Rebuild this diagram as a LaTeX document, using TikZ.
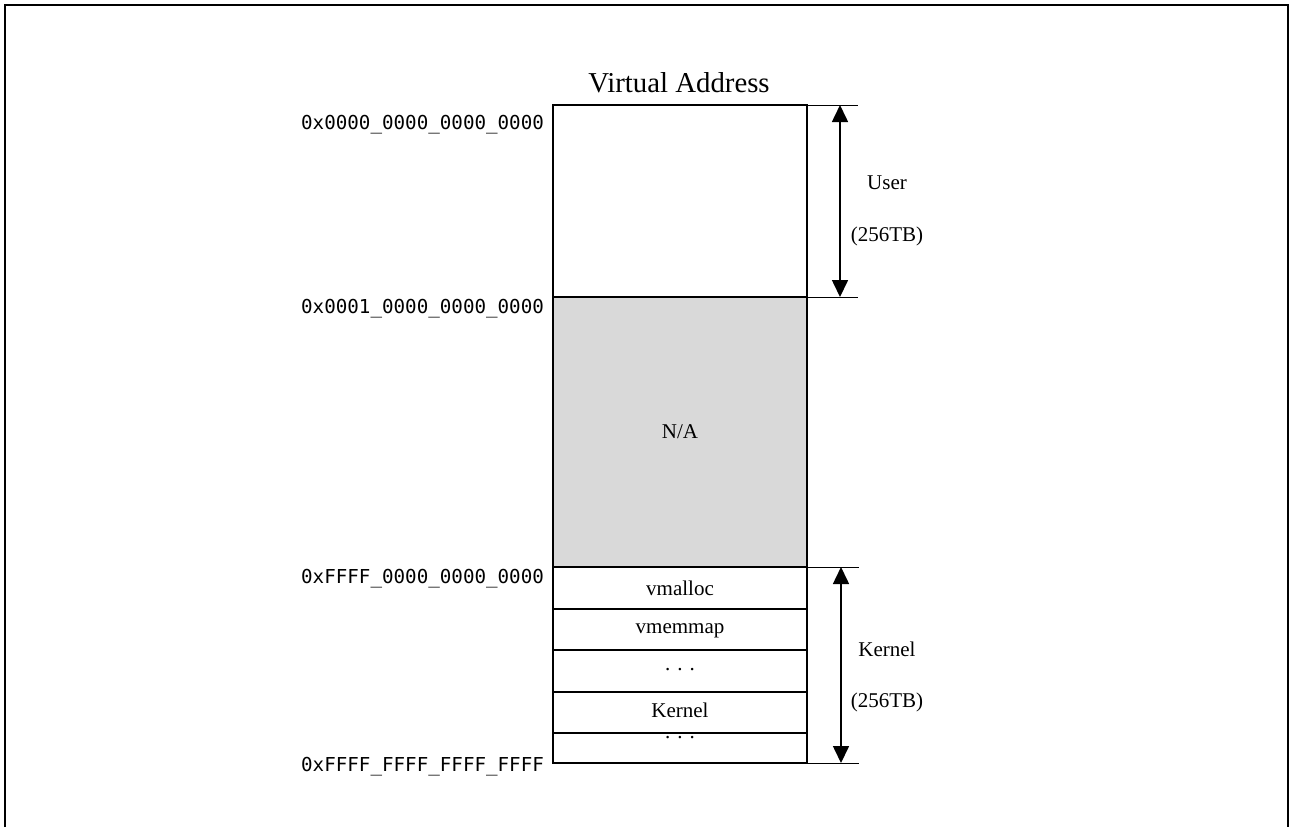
\documentclass[tikz,border=0pt]{standalone}
\usepackage{fontspec}
\setmainfont{Liberation Serif}
\setmonofont{DejaVu Sans Mono}
\usetikzlibrary{arrows.meta}

\begin{document}
\begin{tikzpicture}[x=0.5pt, y=-0.5pt,
  addr/.style={anchor=east, font=\ttfamily\fontsize{9.6}{11}\selectfont},
  lbl/.style={font=\fontsize{10.5}{12}\selectfont},
  blk/.style={draw, line width=0.75pt},
  tick/.style={line width=0.5pt},
  span/.style={line width=0.8pt, {Triangle[length=8.5pt,width=8pt]}-{Triangle[length=8.5pt,width=8pt]}}]
  \useasboundingbox (0,0) rectangle (1290,827);

  % frame, open at the bottom
  \draw[line width=1pt] (5,827) -- (5,5) -- (1288,5) -- (1288,827);

  \colorlet{nagray}{black!15}

  \node[font=\fontsize{14.4}{16}\selectfont] (title) at (679,83) {Virtual Address};

  % user space and the hole
  \draw[blk] (553,105) rectangle (807,297);
  \fill[nagray] (553,297) rectangle (807,567);
  \draw[blk] (553,297) rectangle (807,567);
  \node[lbl] (na) at (680,432) {N/A};

  % kernel rows
  \foreach \t/\b in {567/609, 609/650, 650/692, 692/733, 733/763}
    \draw[blk] (553,\t) rectangle (807,\b);
  \node[lbl] (vmalloc) at (680,588) {vmalloc};
  \node[lbl] (vmemmap) at (680,631) {vmemmap};
  \node[lbl] (dots) at (680,670) {. . .};
  \node[lbl] (kern) at (680,710) {Kernel};
  \begin{scope}
    \clip (553,734) rectangle (807,740);
    \node[lbl] (dotscut) at (680,738) {. . .};
  \end{scope}

  % addresses
  \node[addr] (a0) at (551,125) {0x0000\_0000\_0000\_0000};
  \node[addr] (a1) at (551,309) {0x0001\_0000\_0000\_0000};
  \node[addr] (a2) at (551,579) {0xFFFF\_0000\_0000\_0000};
  \node[addr] (a3) at (551,767) {0xFFFF\_FFFF\_FFFF\_FFFF};

  % ticks
  \coordinate (ut) at (840,105);
  \coordinate (ub) at (840,297);
  \coordinate (kt) at (841,567);
  \coordinate (kb) at (841,763);
  \draw[tick] (807,105) -- (858,105);
  \draw[tick] (807,297) -- (858,297);
  \draw[tick] (807,567) -- (859,567);
  \draw[tick] (807,763) -- (859,763);

  % ranges
  \draw[span] (ut) -- (ub);
  \draw[span] (kt) -- (kb);
  \node[lbl] (user) at (887,183) {User};
  \node[lbl] (usz) at (887,236) {(256TB)};
  \node[lbl] (kernel) at (887,649) {Kernel};
  \node[lbl] (ksz) at (887,702) {(256TB)};
\end{tikzpicture}
\end{document}
